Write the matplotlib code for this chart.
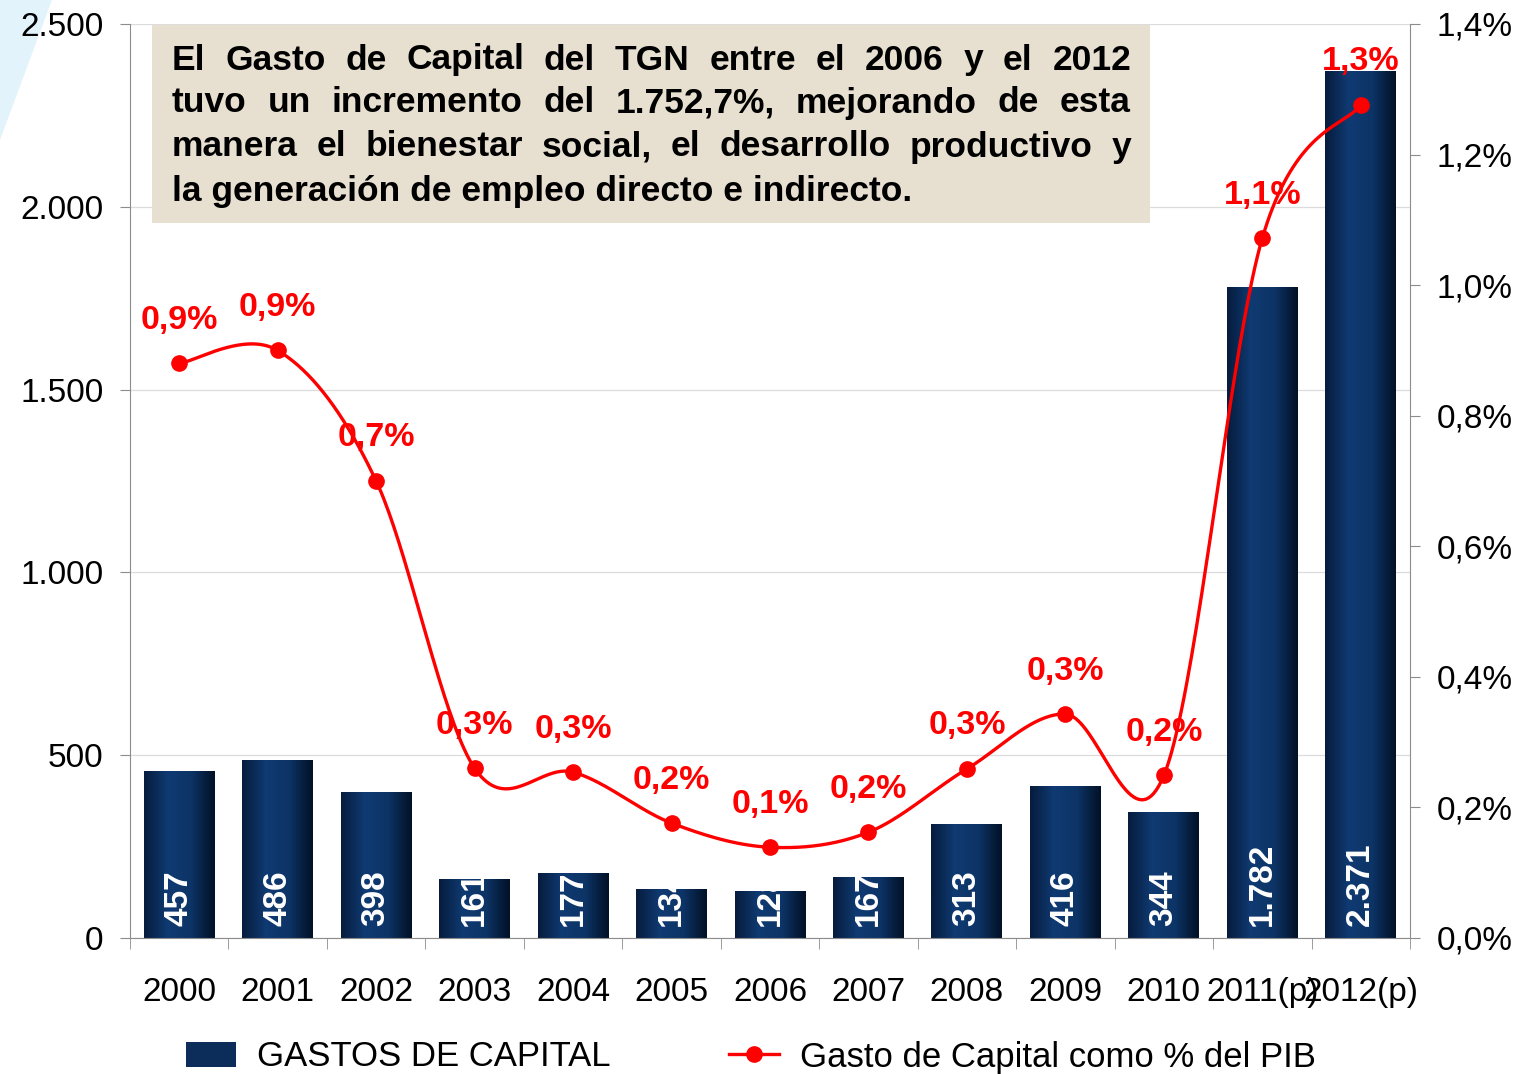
import numpy as np
import matplotlib

matplotlib.use("Agg")
import matplotlib.pyplot as plt
from matplotlib.colors import LinearSegmentedColormap
from matplotlib.lines import Line2D
from matplotlib.patches import Polygon, Rectangle
from matplotlib.transforms import Bbox, ScaledTranslation, TransformedBbox
from matplotlib.ticker import FuncFormatter, FixedLocator

plt.rcParams["font.family"] = ["Liberation Sans", "DejaVu Sans"]

YEARS = ["2000", "2001", "2002", "2003", "2004", "2005", "2006", "2007",
         "2008", "2009", "2010", "2011(p)", "2012(p)"]
GASTO_CAPITAL = [457, 486, 398, 161, 177, 134, 128, 167, 313, 416, 344, 1782, 2371]
PCT_PIB = [0.88, 0.90, 0.70, 0.26, 0.254, 0.176, 0.139, 0.162, 0.259, 0.343, 0.249, 1.072, 1.276]
PCT_LABELS = ["0,9%", "0,9%", "0,7%", "0,3%", "0,3%", "0,2%", "0,1%", "0,2%",
              "0,3%", "0,3%", "0,2%", "1,1%", "1,3%"]
NOTE_LINES = [
    "El Gasto de Capital del TGN entre el 2006 y el 2012",
    "tuvo un incremento del 1.752,7%, mejorando de esta",
    "manera el bienestar social, el desarrollo productivo y",
    "la generación de empleo directo e indirecto.",
]

W, H = 1530, 1074
RED = "#ff0000"
GRAY = "#8c8c8c"


def fx(px):
    return px / W


def fy(py):
    return 1 - py / H


def smooth(xs, ys, n=40):
    # Excel-style smoothed line (cubic Bezier through the points)
    pts = np.column_stack([xs, ys]).astype(float)
    ext = np.vstack([pts[0], pts, pts[-1]])
    out = []
    t = np.linspace(0, 1, n)[:, None]
    for i in range(len(pts) - 1):
        p0, p1, p2, p3 = ext[i], ext[i + 1], ext[i + 2], ext[i + 3]
        b1 = p1 + (p2 - p0) / 6
        b2 = p2 - (p3 - p1) / 6
        seg = (1 - t) ** 3 * p1 + 3 * (1 - t) ** 2 * t * b1 + 3 * (1 - t) * t ** 2 * b2 + t ** 3 * p2
        out.append(seg if i == 0 else seg[1:])
    out = np.vstack(out)
    return out[:, 0], out[:, 1]


fig = plt.figure(figsize=(W / 100, H / 100), dpi=100)
fig.patch.set_facecolor("white")
ax = fig.add_axes([fx(130), fy(938), fx(1410) - fx(130), fy(24) - fy(938)])

# light blue decoration top-left, behind everything
fig.patches.append(Polygon([(0, 1), (fx(52), 1), (0, fy(140))], closed=True, zorder=-5,
                           transform=fig.transFigure, facecolor="#e2f3fb", edgecolor="none"))

x = np.arange(len(YEARS))
bar_cmap = LinearSegmentedColormap.from_list(
    "bar", ["#071c3e", "#0f3a72", "#0d3466", "#021127"])
bars = ax.bar(x, GASTO_CAPITAL, width=0.72, color="none", edgecolor="none", zorder=2)
grad = np.linspace(0, 1, 64)[None, :]
for rect in bars:
    x0, y0 = rect.get_x(), rect.get_y()
    im = ax.imshow(grad, cmap=bar_cmap, aspect="auto", zorder=2,
                   extent=(x0, x0 + rect.get_width(), y0, y0 + rect.get_height()))
    im.set_clip_path(rect)

ax.set_xlim(-0.5, len(YEARS) - 0.5)
ax.set_ylim(0, 2500)

offset = ScaledTranslation(0, 9 / 72, fig.dpi_scale_trans)
for rect, val in zip(bars, GASTO_CAPITAL):
    label = f"{val:,}".replace(",", ".")
    t = ax.text(rect.get_x() + rect.get_width() / 2, 0, label, rotation=90,
                ha="center", va="bottom", color="white", fontsize=24, fontweight="bold",
                transform=ax.transData + offset, zorder=3)
    t.set_clip_box(TransformedBbox(Bbox.from_bounds(rect.get_x(), 0, rect.get_width(), rect.get_height()),
                                   ax.transData))

ax.set_yticks(np.arange(0, 2501, 500))
ax.yaxis.set_major_formatter(FuncFormatter(lambda v, p: f"{int(v):,}".replace(",", ".")))
ax.grid(axis="y", color="#dcdcdc", linewidth=0.9)
ax.set_axisbelow(True)
ax.set_xticks(x)
ax.set_xticklabels(YEARS)
ax.xaxis.set_minor_locator(FixedLocator(np.arange(-0.5, len(YEARS), 1.0)))
ax.tick_params(axis="x", which="major", length=0, pad=28, labelsize=24)
ax.tick_params(axis="x", which="minor", length=8, color=GRAY, direction="out")
ax.tick_params(axis="y", length=7, color=GRAY, pad=12, labelsize=24)
for side in ["top", "right"]:
    ax.spines[side].set_visible(False)
for side in ["left", "bottom"]:
    ax.spines[side].set_color(GRAY)

ax2 = ax.twinx()
ax2.set_ylim(0, 1.4)
ax2.set_yticks(np.arange(0, 1.41, 0.2))
ax2.yaxis.set_major_formatter(FuncFormatter(lambda v, p: f"{v:.1f}%".replace(".", ",")))
ax2.tick_params(axis="y", length=7, color=GRAY, pad=12, labelsize=24)
for side in ["top", "left", "bottom"]:
    ax2.spines[side].set_visible(False)
ax2.spines["right"].set_color(GRAY)

sx, sy = smooth(x, PCT_PIB)
ax2.plot(sx, sy, color=RED, linewidth=2.4, zorder=3)
ax2.plot(x, PCT_PIB, linestyle="none", marker="o", markersize=11, color=RED, zorder=4)
for xi, yi, lab in zip(x, PCT_PIB, PCT_LABELS):
    ax2.annotate(lab, (xi, yi), xytext=(0, 31), textcoords="offset points",
                 ha="center", va="center", color=RED, fontsize=24.5, fontweight="bold", zorder=5)

# note box
fig.add_artist(Rectangle((fx(152), fy(223)), fx(1150) - fx(152), fy(25) - fy(223),
                         transform=fig.transFigure, facecolor="#e7e0d1", edgecolor="none", zorder=1))
renderer = fig.canvas.get_renderer()
left_px, right_px = 172, 1131
line_y = [60, 103, 147, 192]
note_size = 25.5
for i, (line, ly) in enumerate(zip(NOTE_LINES, line_y)):
    words = line.split(" ")
    if i == len(NOTE_LINES) - 1:
        fig.text(fx(left_px), fy(ly), line, ha="left", va="center", fontsize=note_size,
                 fontweight="bold", color="black", zorder=2)
        continue
    arts = [fig.text(0, fy(ly), w, ha="left", va="center", fontsize=note_size, fontweight="bold",
                     color="black", zorder=2) for w in words]
    widths = [a.get_window_extent(renderer).width for a in arts]
    gap = (right_px - left_px - sum(widths)) / (len(words) - 1)
    pos = left_px
    for a, wd in zip(arts, widths):
        a.set_x(fx(pos))
        pos += wd + gap

handles = [
    Rectangle((0, 0), 1, 1, facecolor="#0c2d5a", edgecolor="none"),
    Line2D([], [], color=RED, linewidth=2.4, marker="o", markersize=11),
]
fig.legend(handles, ["GASTOS DE CAPITAL", "Gasto de Capital como % del PIB"],
           loc="center", bbox_to_anchor=(fx(751), fy(1057)), ncol=2, frameon=False,
           fontsize=25, handlelength=1.45, handletextpad=0.6, columnspacing=3.4,
           borderaxespad=0, borderpad=0)

fig.savefig("out.png", dpi=100)
